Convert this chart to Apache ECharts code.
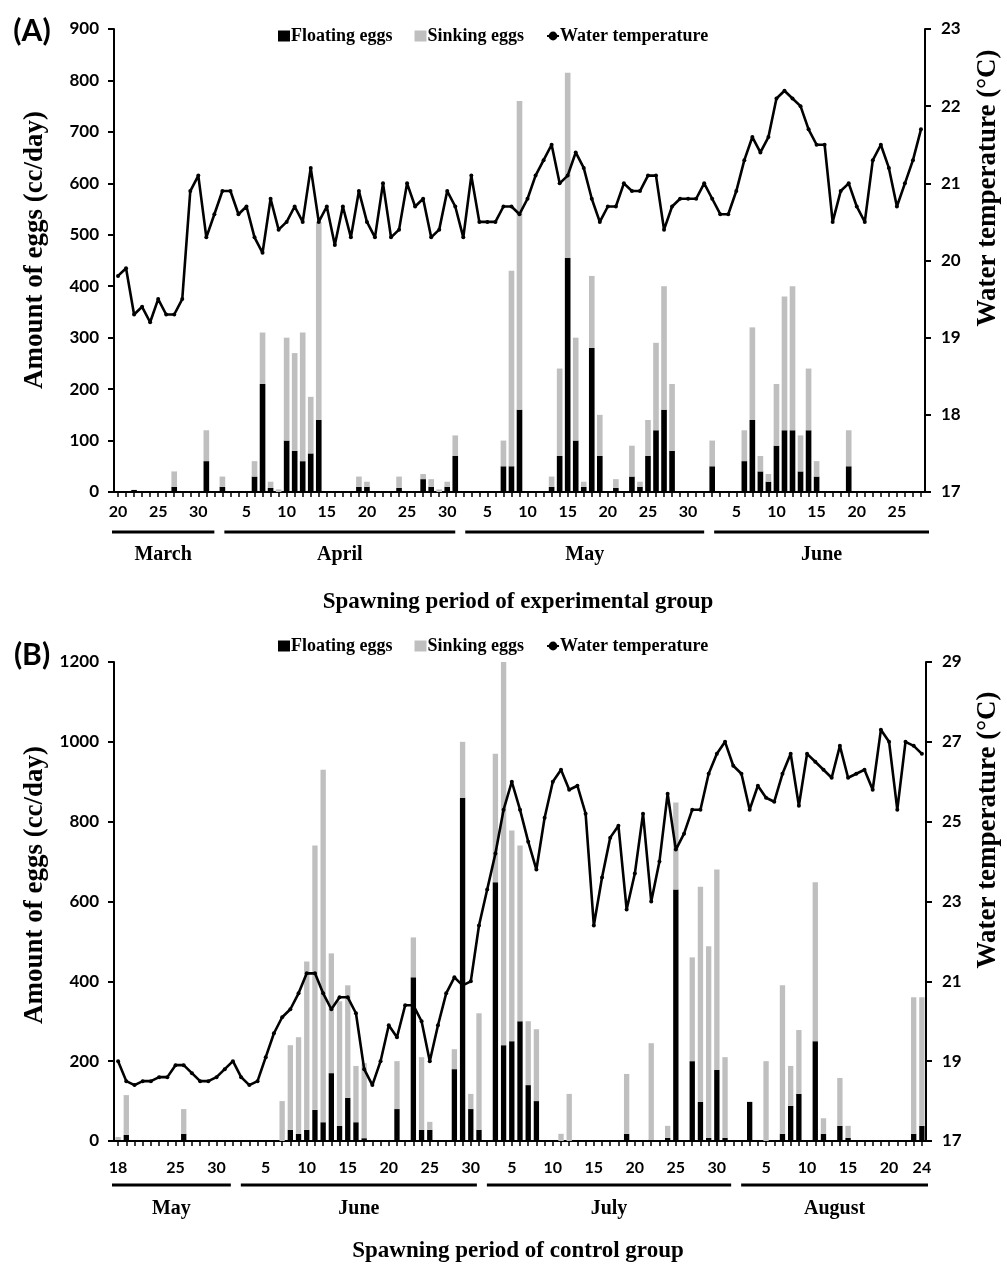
<!DOCTYPE html>
<html>
<head>
<meta charset="utf-8">
<script src="https://cdn.jsdelivr.net/npm/echarts@6/dist/echarts.min.js"></script>
<style>
  html, body { margin: 0; padding: 0; background: #fff; }
  #chart { width: 1007px; height: 1269px; }
</style>
</head>
<body>
<div id="chart"></div>
<script>
// months on each panel: [name, month, first day, last day]
var monthsA = [['March', 3, 20, 31], ['April', 4, 1, 30], ['May', 5, 1, 31], ['June', 6, 1, 28]];
var monthsB = [['May', 5, 18, 31], ['June', 6, 1, 30], ['July', 7, 1, 31], ['August', 8, 1, 24]];

var tickLabelsA = ['3/20', '3/25', '3/30', '4/5', '4/10', '4/15', '4/20', '4/25', '4/30',
  '5/5', '5/10', '5/15', '5/20', '5/25', '5/30', '6/5', '6/10', '6/15', '6/20', '6/25'];
var tickLabelsB = ['5/18', '5/25', '5/30', '6/5', '6/10', '6/15', '6/20', '6/25', '6/30',
  '7/5', '7/10', '7/15', '7/20', '7/25', '7/30', '8/5', '8/10', '8/15', '8/20', '8/24'];

// (A) experimental group: days with eggs, floating / sinking amounts (cc/day)
var spawnDaysA = ['3/22', '3/27', '3/31', '4/2', '4/6', '4/7', '4/8', '4/9', '4/10', '4/11', '4/12', '4/13', '4/14',
  '4/19', '4/20', '4/24', '4/27', '4/28', '4/29', '4/30', '5/1', '5/7', '5/8', '5/9', '5/13', '5/14', '5/15',
  '5/16', '5/17', '5/18', '5/19', '5/21', '5/23', '5/24', '5/25', '5/26', '5/27', '5/28', '6/2', '6/6', '6/7',
  '6/8', '6/9', '6/10', '6/11', '6/12', '6/13', '6/14', '6/15', '6/19'];
var floatingA = [4, 10, 60, 10, 30, 210, 8, 0, 100, 80, 60, 75, 140,
  10, 10, 8, 25, 10, 0, 10, 70, 50, 50, 160, 10, 70, 455,
  100, 10, 280, 70, 8, 30, 10, 70, 120, 160, 80, 50, 60, 140,
  40, 20, 90, 120, 120, 40, 120, 30, 50];
var sinkingA = [0, 30, 60, 20, 30, 100, 12, 5, 200, 190, 250, 110, 385,
  20, 10, 22, 10, 15, 5, 10, 40, 50, 380, 600, 20, 170, 360,
  200, 10, 140, 80, 17, 60, 10, 70, 170, 240, 130, 50, 60, 180,
  30, 15, 120, 260, 280, 70, 120, 30, 70];
// water temperature, one value per day from 3/20 to 6/28
var tempA = [19.8, 19.9, 19.3, 19.4, 19.2, 19.5, 19.3, 19.3, 19.5, 20.9, 21.1, 20.3,
  20.6, 20.9, 20.9, 20.6, 20.7, 20.3, 20.1, 20.8, 20.4, 20.5, 20.7, 20.5, 21.2, 20.5, 20.7, 20.2, 20.7, 20.3, 20.9,
  20.5, 20.3, 21.0, 20.3, 20.4, 21.0, 20.7, 20.8, 20.3, 20.4, 20.9,
  20.7, 20.3, 21.1, 20.5, 20.5, 20.5, 20.7, 20.7, 20.6, 20.8, 21.1, 21.3, 21.5, 21.0, 21.1, 21.4, 21.2, 20.8, 20.5,
  20.7, 20.7, 21.0, 20.9, 20.9, 21.1, 21.1, 20.4, 20.7, 20.8, 20.8,
  20.8, 21.0, 20.8, 20.6, 20.6, 20.9, 21.3, 21.6, 21.4, 21.6, 22.1, 22.2, 22.1, 22.0, 21.7, 21.5, 21.5, 20.5,
  20.9, 21.0, 20.7, 20.5, 21.3, 21.5, 21.2, 20.7, 21.0, 21.3, 21.7];

// (B) control group
var spawnDaysB = ['5/18', '5/19', '5/26', '6/7', '6/8', '6/9', '6/10', '6/11', '6/12', '6/13', '6/14', '6/15',
  '6/16', '6/17', '6/21', '6/23', '6/24', '6/25', '6/28', '6/29', '6/30', '7/1', '7/3', '7/4', '7/5', '7/6',
  '7/7', '7/8', '7/11', '7/12', '7/19', '7/22', '7/24', '7/25', '7/27', '7/28', '7/29', '7/30', '7/31',
  '8/3', '8/5', '8/7', '8/8', '8/9', '8/11', '8/12', '8/14', '8/15', '8/23', '8/24'];
var floatingB = [3, 15, 18, 0, 28, 18, 28, 78, 47, 170, 38, 108,
  47, 7, 80, 410, 28, 28, 180, 860, 80, 28, 648, 240, 250, 300,
  140, 100, 0, 0, 18, 3, 8, 630, 200, 98, 8, 178, 8,
  98, 0, 18, 88, 118, 250, 18, 38, 8, 18, 38];
var sinkingB = [7, 100, 62, 100, 212, 242, 422, 662, 883, 300, 312, 282,
  141, 188, 120, 100, 182, 20, 50, 140, 38, 292, 322, 960, 528, 440,
  160, 180, 18, 118, 150, 242, 30, 218, 260, 539, 480, 502, 202,
  0, 200, 372, 100, 160, 398, 39, 120, 30, 342, 322];
// water temperature, one value per day from 5/18 to 8/24
var tempB = [19.0, 18.5, 18.4, 18.5, 18.5, 18.6, 18.6, 18.9, 18.9, 18.7, 18.5, 18.5, 18.6, 18.8,
  19.0, 18.6, 18.4, 18.5, 19.1, 19.7, 20.1, 20.3, 20.7, 21.2, 21.2, 20.7, 20.3, 20.6, 20.6, 20.2, 18.8, 18.4,
  19.0, 19.9, 19.6, 20.4, 20.4, 20.0, 19.0, 19.9, 20.7, 21.1, 20.9, 21.0,
  22.4, 23.3, 24.2, 25.3, 26.0, 25.3, 24.5, 23.8, 25.1, 26.0, 26.3, 25.8, 25.9, 25.2, 22.4, 23.6, 24.6, 24.9,
  22.8, 23.7, 25.2, 23.0, 24.0, 25.7, 24.3, 24.7, 25.3, 25.3, 26.2, 26.7, 27.0,
  26.4, 26.2, 25.3, 25.9, 25.6, 25.5, 26.2, 26.7, 25.4, 26.7, 26.5, 26.3, 26.1, 26.9, 26.1, 26.2, 26.3, 25.8,
  27.3, 27.0, 25.3, 27.0, 26.9, 26.7];

var serif = '"Liberation Serif", "Times New Roman", serif';
var sans = 'Lato, "Open Sans", sans-serif';

function dayList(months) {
  var out = [];
  months.forEach(function(m) {
    for (var d = m[2]; d <= m[3]; d++) out.push(m[1] + '/' + d);
  });
  return out;
}
function fillDays(days, spawnDays, vals) {
  return days.map(function(d) {
    var k = spawnDays.indexOf(d);
    return k >= 0 ? vals[k] : 0;
  });
}

var daysA = dayList(monthsA);
var daysB = dayList(monthsB);

function xAxisFor(grid, days, ticks, margin) {
  return {
    type: 'category', gridIndex: grid, data: days, boundaryGap: true,
    axisLine: { lineStyle: { color: '#000', width: 2 } },
    axisTick: { show: true, interval: 0, alignWithLabel: true, length: 5, lineStyle: { color: '#000', width: 1.5 } },
    axisLabel: {
      interval: 0, margin: margin, color: '#000', fontFamily: sans, fontWeight: 'bold', fontSize: 16,
      formatter: function(v) { return ticks.indexOf(v) >= 0 ? v.split('/')[1] : ''; }
    },
    splitLine: { show: false }
  };
}
function yAxisFor(grid, pos, min, max, step) {
  return {
    type: 'value', gridIndex: grid, position: pos, min: min, max: max, interval: step,
    axisLine: { show: true, lineStyle: { color: '#000', width: 2 } },
    axisTick: { show: true, length: 6, lineStyle: { color: '#000', width: 2 } },
    axisLabel: { margin: pos === 'left' ? 15 : 16, color: '#000', fontFamily: sans, fontWeight: 'bold', fontSize: 17,
      formatter: function(v) { return String(v); } },
    splitLine: { show: false }
  };
}
function legendFor(top) {
  return {
    top: top, left: 273, itemGap: 22, itemWidth: 12, itemHeight: 11,
    textStyle: { fontFamily: serif, fontWeight: 'bold', fontSize: 18, color: '#000', padding: [0, 0, 0, -4] },
    data: [
      { name: 'Floating eggs', icon: 'rect' },
      { name: 'Sinking eggs', icon: 'rect' },
      { name: 'Water temperature' }
    ]
  };
}
function seriesFor(idx, days, spawnDays, fl, sk, temp, bw) {
  return [
    { name: 'Floating eggs', type: 'bar', stack: 'eggs' + idx, xAxisIndex: idx, yAxisIndex: idx * 2,
      barWidth: bw, itemStyle: { color: '#000' }, data: fillDays(days, spawnDays, fl) },
    { name: 'Sinking eggs', type: 'bar', stack: 'eggs' + idx, xAxisIndex: idx, yAxisIndex: idx * 2,
      barWidth: bw, itemStyle: { color: '#bfbfbf' }, data: fillDays(days, spawnDays, sk) },
    { name: 'Water temperature', type: 'line', xAxisIndex: idx, yAxisIndex: idx * 2 + 1,
      symbol: 'circle', symbolSize: 4, showAllSymbol: true, z: 5,
      itemStyle: { color: '#000' }, lineStyle: { color: '#000', width: 2.6 }, data: temp }
  ];
}

var chart = echarts.init(document.getElementById('chart'), null, { renderer: 'canvas' });
var option = {
  animation: false,
  backgroundColor: '#fff',
  legend: [legendFor(22), legendFor(632)],
  grid: [
    { left: 114, top: 29, width: 811, height: 463 },
    { left: 114, top: 662, width: 812, height: 479 }
  ],
  xAxis: [xAxisFor(0, daysA, tickLabelsA, 12), xAxisFor(1, daysB, tickLabelsB, 19)],
  yAxis: [
    yAxisFor(0, 'left', 0, 900, 100), yAxisFor(0, 'right', 17, 23, 1),
    yAxisFor(1, 'left', 0, 1200, 200), yAxisFor(1, 'right', 17, 29, 2)
  ],
  series: seriesFor(0, daysA, spawnDaysA, floatingA, sinkingA, tempA, '70%')
    .concat(seriesFor(1, daysB, spawnDaysB, floatingB, sinkingB, tempB, '65%'))
};
chart.setOption(option);

function txt(x, y, text, font, rot) {
  return {
    type: 'text', x: x, y: y, rotation: rot || 0, z: 10,
    style: { text: text, font: font, fill: '#000', align: 'center', verticalAlign: 'middle',
      textAlign: 'center', textVerticalAlign: 'middle' }
  };
}

// month bars + names under the date axis
function monthMarks(xIdx, months, days, lineY, nameY, a, b) {
  var out = [];
  var px = function(d) { return chart.convertToPixel({ xAxisIndex: xIdx }, d); };
  var band = px(days[1]) - px(days[0]);
  months.forEach(function(m, k) {
    var first = m[1] + '/' + m[2], last = m[1] + '/' + m[3];
    var x0 = px(first) - band / 2 + (k === 0 ? -2 : a);
    var x1 = px(last) + band / 2 + b;
    out.push({ type: 'line', z: 10, shape: { x1: x0, y1: lineY, x2: x1, y2: lineY },
      style: { stroke: '#000', lineWidth: 3 } });
    out.push(txt((x0 + x1) / 2, nameY, m[0], 'bold 20px ' + serif));
  });
  return out;
}

var titleFont = 'bold 27px ' + serif;
var graphics = [
  txt(32, 31, '(A)', 'bold 30px ' + sans),
  txt(32, 655, '(B)', 'bold 30px ' + sans),
  txt(35, 250, 'Amount of eggs (cc/day)', titleFont, Math.PI / 2),
  txt(988, 188, 'Water temperature (°C)', titleFont, Math.PI / 2),
  txt(35, 885, 'Amount of eggs (cc/day)', titleFont, Math.PI / 2),
  txt(988, 830, 'Water temperature (°C)', titleFont, Math.PI / 2),
  txt(518, 602, 'Spawning period of experimental group', 'bold 23px ' + serif),
  txt(518, 1251, 'Spawning period of control group', 'bold 23px ' + serif)
].concat(monthMarks(0, monthsA, daysA, 532, 555, 14, 4))
 .concat(monthMarks(1, monthsB, daysB, 1185, 1209, 12, 2));

chart.setOption({ graphic: graphics });
window.addEventListener('resize', function() { chart.resize(); });
</script>
</body>
</html>
